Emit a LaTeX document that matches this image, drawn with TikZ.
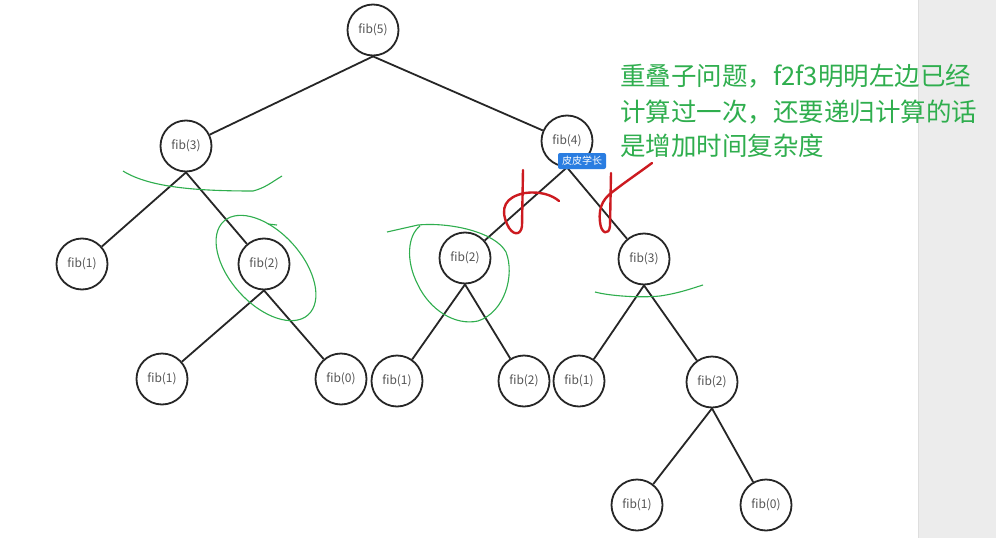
\documentclass[tikz,border=0pt]{standalone}
\usepackage{fontspec}
\newfontfamily\cjk{Noto Sans CJK SC}
\definecolor{annogreen}{HTML}{2FAE4E}
\definecolor{markred}{HTML}{CC1A20}
\definecolor{tagblue}{HTML}{2A7DE1}
\definecolor{stripgray}{HTML}{ECECEC}
\definecolor{nodetext}{HTML}{555555}
\definecolor{edgecol}{HTML}{262626}
\begin{document}
\begin{tikzpicture}[x=1pt,y=-1pt,
  fibnode/.style={circle,draw=edgecol,line width=1.8pt,fill=white,minimum size=51pt,inner sep=0pt,
    font=\cjk\fontsize{12}{14}\selectfont,text=nodetext},
  edge/.style={draw=edgecol,line width=1.8pt},
  greenmark/.style={draw=annogreen,line width=1.1pt},
  redmark/.style={draw=markred,line width=2.4pt,line cap=round,line join=round},
  annot/.style={anchor=west,inner sep=0pt,text=annogreen,font=\cjk\fontsize{25.5}{30}\selectfont}]
\useasboundingbox (0,0) rectangle (996,538);
\fill[white] (0,0) rectangle (996,538);
\fill[stripgray] (918,0) rectangle (996,538);
\draw[color=black!13,line width=0.8pt] (918,0) -- (918,538);

% nodes
\node[fibnode] (n5) at (373,30) {fib(5)};
\node[fibnode] (n3) at (186,146) {fib(3)};
\node[fibnode] (n4) at (567,141) {fib(4)};
\node[fibnode] (a1) at (82,264) {fib(1)};
\node[fibnode] (a2) at (264,264) {fib(2)};
\node[fibnode] (b2) at (465,258) {fib(2)};
\node[fibnode] (b3) at (644,259) {fib(3)};
\node[fibnode] (c1) at (162,379) {fib(1)};
\node[fibnode] (c0) at (341,379) {fib(0)};
\node[fibnode] (d1) at (397,381) {fib(1)};
\node[fibnode] (d2) at (524,381) {fib(2)};
\node[fibnode] (e1) at (579,381) {fib(1)};
\node[fibnode] (e2) at (712,382) {fib(2)};
\node[fibnode] (f1) at (637,505) {fib(1)};
\node[fibnode] (f0) at (766,505) {fib(0)};

% edges
\begin{scope}[on background layer/.style={}]
\path[edge] (n5.south) -- (n3);
\path[edge] (n5.south) -- (n4);
\path[edge] (n3.south) -- (a1);
\path[edge] (n3.south) -- (a2);
\path[edge] (a2.south) -- (c1);
\path[edge] (a2.south) -- (c0);
\path[edge] (n4.south) -- (b2);
\path[edge] (n4.south) -- (b3);
\path[edge] (b2.south) -- (d1);
\path[edge] (b2.south) -- (d2);
\path[edge] (b3.south) -- (e1);
\path[edge] (b3.south) -- (e2);
\path[edge] (e2.south) -- (f1);
\path[edge] (e2.south) -- (f0);
\end{scope}

% green annotations
\draw[greenmark] (123,171) .. controls (150,188) and (200,191) .. (253,191) .. controls (265,188) and (272,182) .. (282,176);
\draw[greenmark,rotate around={-48:(266,268)}] (266,268) ellipse (63pt and 36pt);
\draw[greenmark] (277,225) -- (268,224);
\draw[greenmark] (387,232) -- (418,225) .. controls (450,222) and (495,232) .. (506,252)
  .. controls (515,275) and (505,312) .. (478,321)
  .. controls (455,326) and (430,310) .. (418,285)
  .. controls (405,260) and (408,235) .. (420,226);
\draw[greenmark] (595,292) .. controls (610,296) and (640,298) .. (660,296) .. controls (680,293) and (693,288) .. (703,285);

% red marks
\draw[redmark] (523,170) -- (522,226) .. controls (521,236) and (512,236) .. (507,224)
  .. controls (500,208) and (505,197) .. (525,193) .. controls (540,191) and (552,195) .. (559,201);
\draw[redmark] (611,173) -- (610,226) .. controls (609,236) and (601,234) .. (600,222)
  .. controls (598,205) and (605,197) .. (615,190) .. controls (628,180) and (640,172) .. (652,163);

% blue tag
\node[fill=tagblue,rounded corners=2pt,minimum width=48pt,minimum height=16pt,inner sep=0pt,
  text=white,font=\cjk\fontsize{10}{12}\selectfont] (tag) at (582,161) {皮皮学长};

% green text
\node[annot] (t1) at (620,76) {重叠子问题，f2f3明明左边已经};
\node[annot] (t2) at (620,112) {计算过一次，还要递归计算的话};
\node[annot] (t3) at (620,146) {是增加时间复杂度};
\end{tikzpicture}
\end{document}
